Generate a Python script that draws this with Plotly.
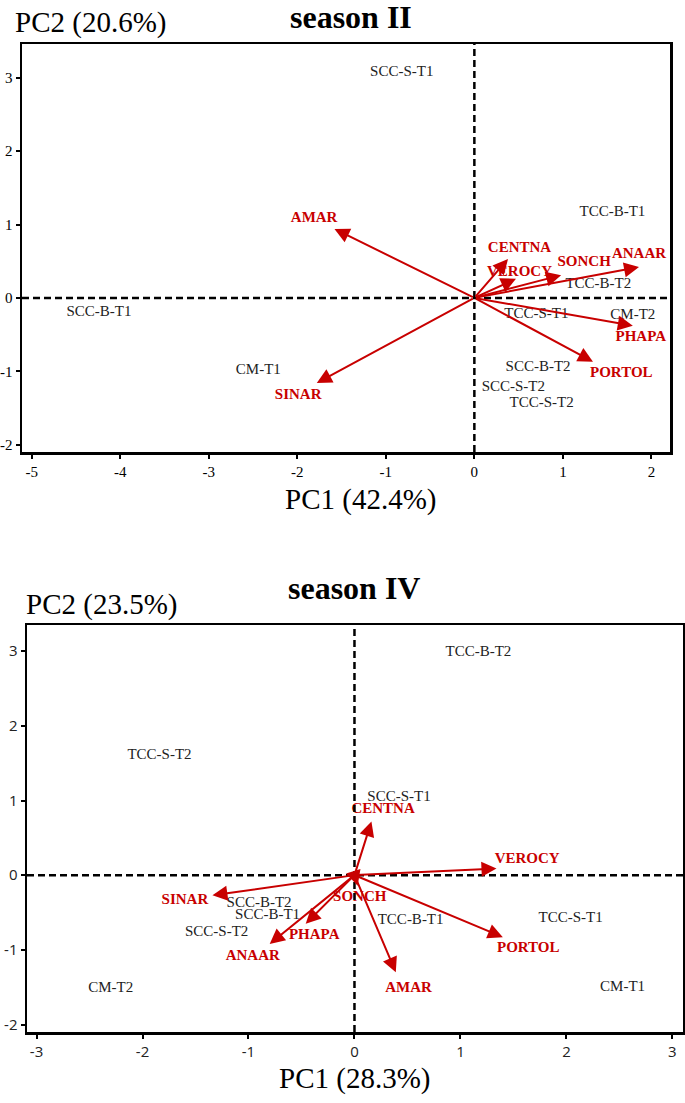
import plotly.graph_objects as go

# ---------------- Season II data ----------------
s2_obs = ["SCC-S-T1", "TCC-B-T1", "TCC-B-T2", "TCC-S-T1", "CM-T2",
          "SCC-B-T2", "SCC-S-T2", "TCC-S-T2", "SCC-B-T1", "CM-T1"]
s2_obs_x = [-0.82, 1.56, 1.40, 0.70, 1.79, 0.72, 0.44, 0.76, -4.24, -2.44]
s2_obs_y = [3.07, 1.17, 0.19, -0.22, -0.24, -0.94, -1.22, -1.44, -0.19, -0.99]

s2_var = ["AMAR", "SINAR", "CENTNA", "VEROCY", "SONCH", "ANAAR", "PHAPA", "PORTOL"]
s2_var_x = [-1.58, -1.78, 0.38, 0.47, 0.98, 1.86, 1.79, 1.34]
s2_var_y = [0.94, -1.16, 0.53, 0.26, 0.31, 0.42, -0.38, -0.87]
s2_lab_x = [-1.81, -1.99, 0.51, 0.51, 1.24, 1.86, 1.88, 1.66]
s2_lab_y = [1.09, -1.33, 0.67, 0.35, 0.48, 0.59, -0.53, -1.02]

s2_xticks = [-5, -4, -3, -2, -1, 0, 1, 2]
s2_xticktext = ["-5", "-4", "-3", "-2", "-1", "0", "1", "2"]
s2_yticks = [-2, -1, 0, 1, 2, 3]
s2_yticktext = ["-2", "-1", "0", "1", "2", "3"]

# ---------------- Season IV data ----------------
s4_obs = ["TCC-S-T2", "SCC-B-T2", "SCC-B-T1", "SCC-S-T2", "CM-T2",
          "TCC-B-T2", "SCC-S-T1", "TCC-B-T1", "TCC-S-T1", "CM-T1"]
s4_obs_x = [-1.84, -0.90, -0.82, -1.30, -2.30, 1.17, 0.42, 0.53, 2.04, 2.53]
s4_obs_y = [1.61, -0.37, -0.54, -0.77, -1.52, 2.99, 1.05, -0.61, -0.58, -1.50]

s4_var = ["CENTNA", "VEROCY", "PORTOL", "AMAR", "SONCH", "SINAR", "PHAPA", "ANAAR"]
s4_var_x = [0.16, 1.34, 1.40, 0.39, 0.03, -1.34, -0.46, -0.80]
s4_var_y = [0.72, 0.09, -0.83, -1.30, -0.14, -0.27, -0.65, -0.92]
s4_lab_x = [0.27, 1.63, 1.64, 0.51, 0.05, -1.60, -0.38, -0.96]
s4_lab_y = [0.88, 0.21, -0.98, -1.52, -0.30, -0.34, -0.81, -1.08]

s4_xticks = [-3, -2, -1, 0, 1, 2, 3]
s4_xticktext = ["-3", "-2", "-1", "0", "1", "2", "3"]
s4_yticks = [-2, -1, 0, 1, 2, 3]
s4_yticktext = ["-2", "-1", "0", "1", "2", "3"]

RED = "#C80000"
SERIF = "Liberation Serif"
SANS = "Open Sans"

W, H = 685, 1103


def fx(px):
    return px / W


def fy(py):
    return 1 - py / H


fig = go.Figure()

fig.add_trace(go.Scatter(x=s2_obs_x, y=s2_obs_y, text=s2_obs, mode="text",
                         textfont=dict(family=SERIF, size=15, color="#222222"),
                         xaxis="x", yaxis="y", showlegend=False, hoverinfo="skip"))
fig.add_trace(go.Scatter(x=s2_lab_x, y=s2_lab_y, text=s2_var, mode="text",
                         textfont=dict(family=SERIF, size=15, color=RED, weight="bold"),
                         xaxis="x", yaxis="y", showlegend=False, hoverinfo="skip"))
fig.add_trace(go.Scatter(x=s4_obs_x, y=s4_obs_y, text=s4_obs, mode="text",
                         textfont=dict(family=SERIF, size=15, color="#222222"),
                         xaxis="x2", yaxis="y2", showlegend=False, hoverinfo="skip"))
fig.add_trace(go.Scatter(x=s4_lab_x, y=s4_lab_y, text=s4_var, mode="text",
                         textfont=dict(family=SERIF, size=15, color=RED, weight="bold"),
                         xaxis="x2", yaxis="y2", showlegend=False, hoverinfo="skip"))

annotations = []
for vx, vy in zip(s2_var_x, s2_var_y):
    annotations.append(dict(x=vx, y=vy, ax=0, ay=0, xref="x", yref="y",
                            axref="x", ayref="y", text="", showarrow=True,
                            arrowhead=2, arrowsize=1.5, arrowwidth=2,
                            arrowcolor=RED, standoff=0))
for vx, vy in zip(s4_var_x, s4_var_y):
    annotations.append(dict(x=vx, y=vy, ax=0, ay=0, xref="x2", yref="y2",
                            axref="x2", ayref="y2", text="", showarrow=True,
                            arrowhead=2, arrowsize=1.5, arrowwidth=2,
                            arrowcolor=RED, standoff=0))


def txt(t, px, py, size, bold=False):
    return dict(text=("<b>%s</b>" % t) if bold else t, x=fx(px), y=fy(py),
                xref="paper", yref="paper", xanchor="center", yanchor="middle",
                showarrow=False, font=dict(family=SERIF, size=size, color="black"))


annotations += [
    txt("season II", 351, 17, 32, True),
    txt("PC2 (20.6%)", 90, 22, 29),
    txt("PC1 (42.4%)", 361, 499, 29),
    txt("season IV", 354, 588, 32, True),
    txt("PC2 (23.5%)", 101, 604, 29),
    txt("PC1 (28.3%)", 354, 1078, 29),
]

dash = "7px,4px"
shapes = [
    dict(type="line", xref="x", yref="y domain", x0=0, x1=0, y0=0, y1=1,
         line=dict(color="black", width=2.5, dash=dash)),
    dict(type="line", xref="x domain", yref="y", x0=0, x1=1, y0=0, y1=0,
         line=dict(color="black", width=2.5, dash=dash)),
    dict(type="line", xref="x2", yref="y2 domain", x0=0, x1=0, y0=0, y1=1,
         line=dict(color="black", width=2.5, dash=dash)),
    dict(type="line", xref="x2 domain", yref="y2", x0=0, x1=1, y0=0, y1=0,
         line=dict(color="black", width=2.5, dash=dash)),
]

axis_common = dict(showline=True, mirror=True, linecolor="black", linewidth=2.5,
                   showgrid=False, zeroline=False, ticks="outside", ticklen=4,
                   tickwidth=2, tickcolor="black", automargin=False)

fig.update_layout(
    width=W, height=H,
    margin=dict(l=0, r=0, t=0, b=0, autoexpand=False),
    paper_bgcolor="white", plot_bgcolor="white",
    xaxis=dict(domain=[fx(22), fx(670)], range=[-5.11, 2.21], anchor="y",
               tickvals=s2_xticks, ticktext=s2_xticktext,
               tickfont=dict(family=SERIF, size=15, color="black"), **axis_common),
    yaxis=dict(domain=[fy(452), fy(44)], range=[-2.10, 3.46], anchor="x",
               tickvals=s2_yticks, ticktext=s2_yticktext,
               tickfont=dict(family=SERIF, size=15, color="black"), **axis_common),
    xaxis2=dict(domain=[fx(27), fx(683)], range=[-3.09, 3.10], anchor="y2",
                tickvals=s4_xticks, ticktext=s4_xticktext,
                tickfont=dict(family=SANS, size=15, color="#222222"), **axis_common),
    yaxis2=dict(domain=[fy(1032), fy(625)], range=[-2.10, 3.35], anchor="x2",
                tickvals=s4_yticks, ticktext=s4_yticktext,
                tickfont=dict(family=SANS, size=15, color="#222222"), **axis_common),
    annotations=annotations,
    shapes=shapes,
)

# remove the browser's default 8px body margin so the figure fills the window
fig.write_html("out.html",
               config={"displayModeBar": False, "staticPlot": True},
               post_script="document.body.style.margin='0';document.body.style.overflow='hidden';")
